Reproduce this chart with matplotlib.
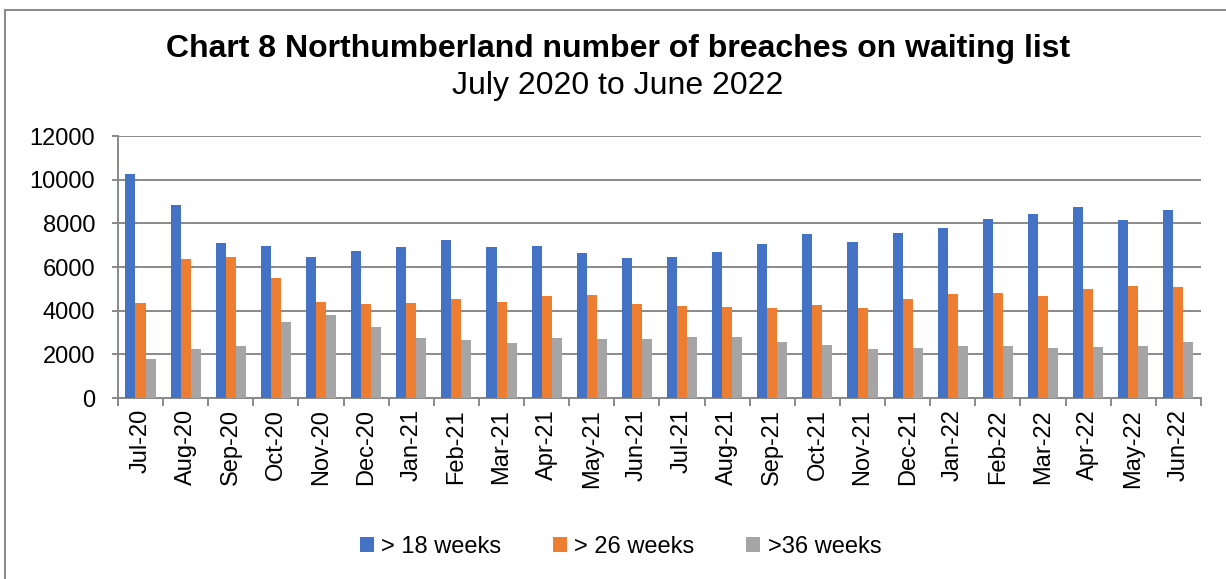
# Chart 8: Northumberland waiting list breaches, grouped bars by month
import matplotlib.pyplot as plt
import numpy as np
from matplotlib.lines import Line2D

plt.rcParams['font.family'] = ['Liberation Sans', 'DejaVu Sans']

months = ["Jul-20", "Aug-20", "Sep-20", "Oct-20", "Nov-20", "Dec-20",
          "Jan-21", "Feb-21", "Mar-21", "Apr-21", "May-21", "Jun-21",
          "Jul-21", "Aug-21", "Sep-21", "Oct-21", "Nov-21", "Dec-21",
          "Jan-22", "Feb-22", "Mar-22", "Apr-22", "May-22", "Jun-22"]
over_18 = [10260, 8840, 7115, 6980, 6460, 6735, 6915, 7220, 6915, 6950, 6640, 6400,
           6445, 6705, 7040, 7495, 7160, 7560, 7805, 8200, 8445, 8750, 8170, 8610]
over_26 = [4350, 6380, 6475, 5500, 4400, 4305, 4350, 4535, 4400, 4655, 4705, 4305,
           4215, 4155, 4140, 4275, 4105, 4535, 4780, 4795, 4655, 5010, 5145, 5070]
over_36 = [1800, 2245, 2365, 3495, 3800, 3270, 2735, 2655, 2520, 2735, 2685, 2720,
           2795, 2780, 2580, 2445, 2260, 2290, 2365, 2380, 2305, 2335, 2365, 2580]
series_names = ["> 18 weeks", "> 26 weeks", ">36 weeks"]
colours = ["#4472C4", "#ED7D31", "#A5A5A5"]

fig = plt.figure(figsize=(12.26, 5.79), dpi=100)
ax = fig.add_axes([0.0962, 0.3126, 0.8834, 0.4524])

x = np.arange(len(months))
w = 1 / 4.5
for i, (vals, name, c) in enumerate(zip([over_18, over_26, over_36], series_names, colours)):
    ax.bar(x + (i - 1) * w, vals, width=w, color=c, label=name, zorder=3)

grid_c = "#898989"
ax.set_xlim(-0.5, len(months) - 0.5)
ax.set_ylim(0, 12000)
ax.set_yticks(range(0, 12001, 2000))
ax.yaxis.grid(True, color=grid_c, linewidth=1.4, zorder=0)
ax.set_xticks(x)
ax.set_xticklabels(months, rotation=90, fontsize=17)
ax.set_xticks(np.arange(-0.5, len(months)), minor=True)
ax.tick_params(axis='x', which='major', length=0, pad=8)
ax.tick_params(axis='x', which='minor', length=6, width=1.4, color=grid_c)
ax.tick_params(axis='y', length=4.5, width=1.4, color=grid_c, labelsize=17, pad=12)
for s in ['top', 'right']:
    ax.spines[s].set_visible(False)
for s in ['left', 'bottom']:
    ax.spines[s].set_color(grid_c)
    ax.spines[s].set_linewidth(1.4)

fig.text(0.504, 0.915, "Chart 8 Northumberland number of breaches on waiting list",
         ha='center', va='center', fontsize=23, fontweight='bold')
fig.text(0.504, 0.851, "July 2020 to June 2022", ha='center', va='center', fontsize=23)

fig.legend(loc='center', bbox_to_anchor=(0.506, 0.055), ncol=3, frameon=False,
           fontsize=17, handlelength=0.6, handleheight=0.6, handletextpad=0.3,
           columnspacing=2.2)

# chart frame: top and left edges only
frame_c = "#8c8c8c"
top_y = 1 - 10 / 579
left_x = 5 / 1226
fig.lines.append(Line2D([left_x, 1], [top_y, top_y], transform=fig.transFigure,
                        color=frame_c, linewidth=1.5))
fig.lines.append(Line2D([left_x, left_x], [0, top_y], transform=fig.transFigure,
                        color=frame_c, linewidth=1.5))

fig.savefig("out.png", dpi=100)
